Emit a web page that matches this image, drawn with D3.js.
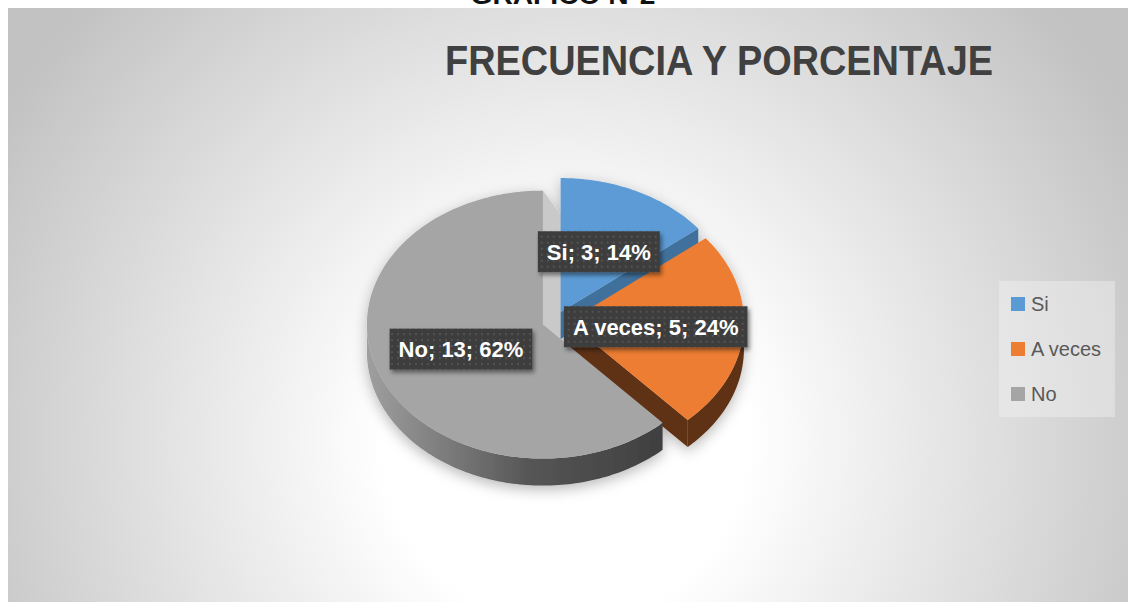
<!DOCTYPE html>
<html>
<head>
<meta charset="utf-8">
<script src="https://cdn.jsdelivr.net/npm/d3@7"></script>
<style>
  body { margin: 0; background: #fff; }
</style>
</head>
<body>
<div id="chart"></div>
<script>
// data
var categories = ["Si", "A veces", "No"];
var counts = [3, 5, 13];
var percentLabels = ["14%", "24%", "62%"];
var chartTitle = "FRECUENCIA Y PORCENTAJE";
var captionAbove = "GRÁFICO N°2";

var width = 1128, height = 602;

// colours
var topColor = d3.scaleOrdinal().domain(categories).range(["#5b9bd5", "#ed7d31", "#a5a5a5"]);
var cutColor = d3.scaleOrdinal().domain(categories).range(["#41719c", "#5f3113", "#c9c9c9"]);
var wallColor = d3.scaleOrdinal().domain(categories).range(["#41719c", "#5f3113", "url(#noWall)"]);

// 3d pie geometry
var cx = 555, cy = 321, rx = 176, ry = 134, depth = 27, explode = 13, perspX = 20;

var data = categories.map(function(c, i) { return {cat: c, count: counts[i], pct: percentLabels[i]}; });

var svg = d3.select("#chart").append("svg")
    .attr("width", width)
    .attr("height", height)
    .style("font-family", "'Liberation Sans', Arial, sans-serif");

var defs = svg.append("defs");

var bg = defs.append("radialGradient")
    .attr("id", "bg")
    .attr("gradientUnits", "userSpaceOnUse")
    .attr("cx", 565).attr("cy", 440).attr("r", 650);
bg.append("stop").attr("offset", 0).attr("stop-color", "#ffffff");
bg.append("stop").attr("offset", 0.28).attr("stop-color", "#ffffff");
bg.append("stop").attr("offset", 1).attr("stop-color", "#c2c2c2");

var wall = defs.append("linearGradient")
    .attr("id", "noWall")
    .attr("gradientUnits", "userSpaceOnUse")
    .attr("x1", cx - rx - 10).attr("x2", cx + 110).attr("y1", 0).attr("y2", 0);
wall.append("stop").attr("offset", 0).attr("stop-color", "#9e9e9e");
wall.append("stop").attr("offset", 0.55).attr("stop-color", "#555555");
wall.append("stop").attr("offset", 1).attr("stop-color", "#3f3f3f");

var pieShadow = defs.append("filter").attr("id", "pieShadow")
    .attr("x", "-20%").attr("y", "-20%").attr("width", "140%").attr("height", "140%");
pieShadow.append("feDropShadow")
    .attr("dx", 0).attr("dy", 4).attr("stdDeviation", 7)
    .attr("flood-color", "#000").attr("flood-opacity", 0.28);

var boxShadow = defs.append("filter").attr("id", "boxShadow")
    .attr("x", "-20%").attr("y", "-30%").attr("width", "140%").attr("height", "160%");
boxShadow.append("feDropShadow")
    .attr("dx", 2).attr("dy", 3).attr("stdDeviation", 2)
    .attr("flood-color", "#000").attr("flood-opacity", 0.45);

var dots = defs.append("pattern").attr("id", "dots")
    .attr("patternUnits", "userSpaceOnUse").attr("width", 6).attr("height", 6);
dots.append("rect").attr("width", 6).attr("height", 6).attr("fill", "#3e3e3e");
dots.append("circle").attr("cx", 3).attr("cy", 3).attr("r", 0.9).attr("fill", "#5a5a5a");

// caption of the page, cut by the chart frame
svg.append("text")
    .attr("x", 563).attr("y", 4)
    .attr("text-anchor", "middle")
    .attr("font-weight", "bold")
    .attr("font-size", 26)
    .attr("textLength", 185)
    .attr("lengthAdjust", "spacingAndGlyphs")
    .attr("fill", "#111")
    .text(captionAbove);

// chart area
svg.append("rect")
    .attr("x", 8).attr("y", 8)
    .attr("width", width - 8).attr("height", height - 8)
    .attr("fill", "url(#bg)");

svg.append("text")
    .attr("x", 719).attr("y", 75)
    .attr("text-anchor", "middle")
    .attr("font-weight", "bold")
    .attr("font-size", 42)
    .attr("textLength", 548)
    .attr("lengthAdjust", "spacingAndGlyphs")
    .attr("fill", "#404040")
    .text(chartTitle);

// pie layout, clockwise from 12 o'clock
var pie = d3.pie().sort(null).value(function(d) { return d.count; });
var slices = pie(data);

slices.forEach(function(s) {
  var mid = (s.startAngle + s.endAngle) / 2;
  s.mid = mid;
  s.ox = cx + explode * Math.sin(mid);
  s.oy = cy - explode * Math.cos(mid) * (ry / rx);
});

function rim(s, a, r, h) {
  return [s.ox + rx * r * Math.sin(a), s.oy - ry * r * Math.cos(a) + (h || 0)];
}

function arcPoints(s, a0, a1, h) {
  var n = Math.max(2, Math.ceil((a1 - a0) / 0.02));
  return d3.range(n + 1).map(function(i) { return rim(s, a0 + (a1 - a0) * i / n, 1, h); });
}

var line = d3.line();

// collect side faces (outer wall + cut faces)
var sides = [];
slices.forEach(function(s) {
  var cat = s.data.cat;
  var a0 = Math.max(s.startAngle, Math.PI / 2), a1 = Math.min(s.endAngle, 3 * Math.PI / 2);
  if (a1 > a0) {
    var top = arcPoints(s, a0, a1, 0);
    var bot = arcPoints(s, a0, a1, depth).reverse();
    sides.push({pts: top.concat(bot), fill: wallColor(cat), key: d3.mean(top, function(p) { return p[1]; })});
  }
  [[s.startAngle, -Math.PI / 2], [s.endAngle, Math.PI / 2]].forEach(function(f) {
    var n = f[0] + f[1];
    var nx = Math.sin(n), nz = Math.cos(n);
    var edgeOn = Math.abs(nz) < 0.01 && nx > 0;
    if (nz < -0.01 || edgeOn) {
      var sh = edgeOn ? perspX : 0;
      var v = rim(s, f[0], 0, 0), r = rim(s, f[0], 1, 0);
      var pts = [v, r, [r[0] + sh, r[1] + depth], [v[0] + sh, v[1] + depth]];
      sides.push({pts: pts, fill: cutColor(cat), key: (v[1] + r[1]) / 2});
    }
  });
});
sides.sort(function(a, b) { return a.key - b.key; });

var pieG = svg.append("g").attr("filter", "url(#pieShadow)");

pieG.selectAll("path.side")
  .data(sides)
  .enter()
  .append("path")
    .attr("class", "side")
    .attr("d", function(d) { return line(d.pts) + "Z"; })
    .attr("fill", function(d) { return d.fill; });

pieG.selectAll("path.top")
  .data(slices)
  .enter()
  .append("path")
    .attr("class", "top")
    .attr("d", function(s) {
      return line([rim(s, 0, 0, 0)].concat(arcPoints(s, s.startAngle, s.endAngle, 0))) + "Z";
    })
    .attr("fill", function(s) { return topColor(s.data.cat); });

// data labels
var labels = svg.selectAll("g.label")
  .data(slices)
  .enter()
  .append("g")
    .attr("class", "label")
    .attr("transform", function(s) {
      var p = rim(s, s.mid, 0.5, 0);
      return "translate(" + p[0] + "," + p[1] + ")";
    });

var box = labels.append("rect")
    .attr("fill", "url(#dots)")
    .attr("filter", "url(#boxShadow)");

labels.append("text")
    .attr("text-anchor", "middle")
    .attr("y", 8)
    .attr("font-size", 22)
    .attr("font-weight", "bold")
    .attr("fill", "#ffffff")
    .text(function(s) { return s.data.cat + "; " + s.data.count + "; " + s.data.pct; });

labels.each(function() {
  var g = d3.select(this);
  var bb = g.select("text").node().getBBox();
  g.select("rect")
    .attr("x", -bb.width / 2 - 9)
    .attr("y", -20.5)
    .attr("width", bb.width + 18)
    .attr("height", 41);
});

// legend
var legendY = d3.scalePoint().domain(categories).range([297, 387]);

svg.append("rect")
    .attr("x", 999).attr("y", 281)
    .attr("width", 116).attr("height", 136)
    .attr("fill", "#f4f4f4")
    .attr("fill-opacity", 0.4);

var legend = svg.selectAll("g.legend")
  .data(categories)
  .enter()
  .append("g")
    .attr("class", "legend")
    .attr("transform", function(c) { return "translate(1011," + legendY(c) + ")"; });

legend.append("rect")
    .attr("width", 14).attr("height", 14)
    .attr("fill", function(c) { return topColor(c); });

legend.append("text")
    .attr("x", 20).attr("y", 14)
    .attr("font-size", 20)
    .attr("fill", "#595959")
    .text(function(c) { return c; });
</script>
</body>
</html>
